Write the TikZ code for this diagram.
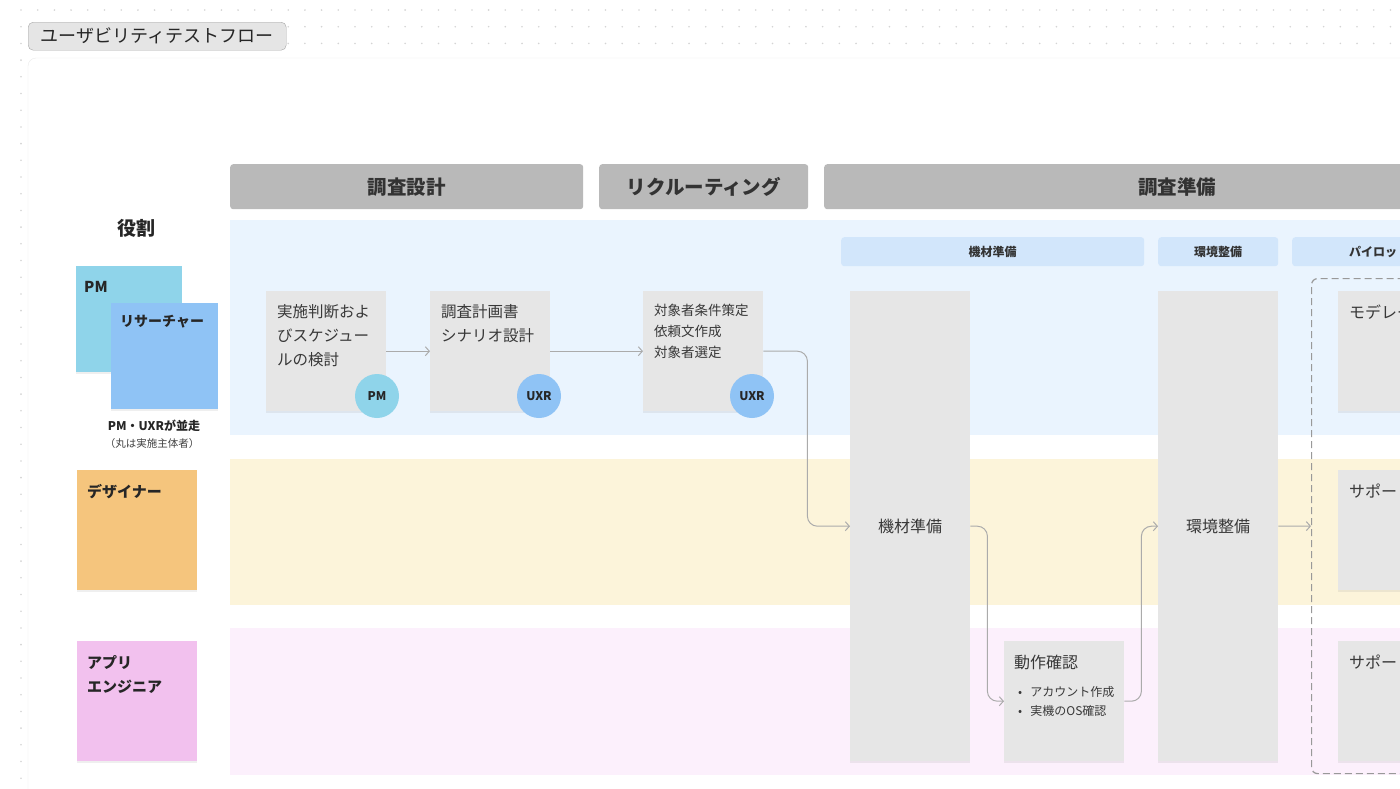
\documentclass[tikz,border=0pt]{standalone}
\usepackage{fontspec}
\setmainfont{Noto Sans CJK JP}
\usetikzlibrary{arrows.meta, positioning, shadows}

\definecolor{dotgray}{HTML}{D4D4D4}
\definecolor{headgray}{HTML}{B9B9B9}
\definecolor{laneblue}{HTML}{EAF4FE}
\definecolor{laneyellow}{HTML}{FCF4DA}
\definecolor{lanepink}{HTML}{FCF0FC}
\definecolor{subblue}{HTML}{D2E6FB}
\definecolor{taskgray}{HTML}{E6E6E6}
\definecolor{pmcol}{HTML}{8FD4EA}
\definecolor{uxrcol}{HTML}{8FC3F5}
\definecolor{descol}{HTML}{F5C57D}
\definecolor{engcol}{HTML}{F2C1EE}
\definecolor{arrowgray}{HTML}{ABABAB}

\tikzset{
  phase/.style={anchor=north west, fill=headgray, rounded corners=3pt, inner sep=0pt,
    minimum height=45pt, text=black!80, font=\fontsize{19.5}{22}\selectfont\bfseries},
  subphase/.style={anchor=north west, fill=subblue, rounded corners=3pt, inner sep=0pt,
    minimum height=29pt, text=black!80, font=\fontsize{12}{14}\selectfont\bfseries},
  task/.style={anchor=north west, fill=taskgray, inner sep=0pt, minimum width=120pt,
    minimum height=120pt, text=black!78,
    drop shadow={shadow xshift=0pt, shadow yshift=-1.5pt, opacity=.12}},
  tasktext/.style={anchor=north west, inner sep=0pt, align=left, text=black!78,
    font=\fontsize{15.5}{24}\selectfont},
  who/.style={circle, fill=#1, minimum size=44pt, inner sep=0pt, text=black!85,
    font=\fontsize{12}{14}\selectfont\bfseries},
  sticky/.style={anchor=north west, fill=#1, inner sep=0pt, minimum width=120pt,
    minimum height=120pt, drop shadow={shadow xshift=0pt, shadow yshift=-1.5pt, opacity=.12}},
  stickytext/.style={anchor=north west, inner sep=0pt, align=left, text=black!85,
    font=\fontsize{15}{24}\selectfont\bfseries},
  flow/.style={draw=arrowgray, line width=1pt, rounded corners=10pt,
    -{Straight Barb[length=4pt, width=9pt]}}
}

\begin{document}
\begin{tikzpicture}[x=1pt, y=-1pt]
\useasboundingbox (0,0) rectangle (1400,788);
\clip (0,0) rectangle (1400,788);
% dotted canvas and board
\foreach \i in {1,...,84}
  \foreach \j in {0,...,47}
    \fill[dotgray] (4.3+16.7*\i, 10+16.7*\j) circle (0.9);
\draw[black!8, fill=white, rounded corners=8] (28,58) rectangle (1440,830);
\node[anchor=north west, draw=black!35, fill=black!10, rounded corners=5pt, inner sep=0pt,
  minimum width=258pt, minimum height=28pt, text=black!85,
  font=\fontsize{18}{20}\selectfont] (title) at (28,22) {ユーザビリティテストフロー};

% phases
\node[phase, minimum width=353pt] (ph-design) at (230,164) {調査設計};
\node[phase, minimum width=209pt] (ph-recruit) at (599,164) {リクルーティング};
\node[phase, minimum width=706pt] (ph-prep) at (824,164) {調査準備};

% lanes
\fill[laneblue] (230,220) rectangle (1440,435);
\fill[laneyellow] (230,459) rectangle (1440,605);
\fill[lanepink] (230,628) rectangle (1440,775);

\node[subphase, minimum width=303pt] (sub-kizai) at (841,237) {機材準備};
\node[subphase, minimum width=120pt] (sub-kankyo) at (1158,237) {環境整備};
\node[subphase, minimum width=210pt] (sub-pilot) at (1292,237) {パイロットテスト};

% roles
\node[text=black!85, font=\fontsize{19}{22}\selectfont\bfseries] (role) at (136,228) {役割};
\node[sticky=pmcol, minimum width=106pt, minimum height=106pt] (pm) at (76,266) {};
\node[stickytext] (pm-t) at ([shift={(8,15)}]pm.north west) {PM};
\node[sticky=uxrcol, minimum width=107pt, minimum height=106pt] (uxr) at (111,303) {};
\node[stickytext, font=\fontsize{14}{20}\selectfont\bfseries] (uxr-t)
  at ([shift={(9,12)}]uxr.north west) {リサーチャー};
\node[text=black!85, font=\fontsize{12}{14}\selectfont\bfseries] (note1) at (154,426) {PM・UXRが並走};
\node[text=black!75, font=\fontsize{10.5}{13}\selectfont] (note2) at (152,444) {（丸は実施主体者）};
\node[sticky=descol] (des) at (77,470) {};
\node[stickytext] (des-t) at ([shift={(10,14)}]des.north west) {デザイナー};
\node[sticky=engcol] (eng) at (77,641) {};
\node[stickytext] (eng-t) at ([shift={(10,14)}]eng.north west) {アプリ\\エンジニア};

% tasks in the research lane
\node[task] (plan) at (266,291) {};
\node[tasktext] (plan-t) at ([shift={(11,13)}]plan.north west) {実施判断およ\\びスケジュー\\ルの検討};
\node[who=pmcol] (plan-who) at (377,396) {PM};
\node[task] (scenario) at (430,291) {};
\node[tasktext] (scenario-t) at ([shift={(11,13)}]scenario.north west) {調査計画書\\シナリオ設計};
\node[who=uxrcol] (scenario-who) at (539,396) {UXR};
\node[task] (target) at (643,291) {};
\node[tasktext, font=\fontsize{13.5}{21}\selectfont] (target-t)
  at ([shift={(11,13)}]target.north west) {対象者条件策定\\依頼文作成\\対象者選定};
\node[who=uxrcol] (target-who) at (752,396) {UXR};

% preparation
\node[task, minimum height=470pt, font=\fontsize{16}{18}\selectfont] (kizai) at (850,291) {機材準備};
\node[task, minimum height=470pt, font=\fontsize{16}{18}\selectfont] (kankyo) at (1158,291) {環境整備};
\node[task] (check) at (1004,641) {};
\node[tasktext, font=\fontsize{16}{18}\selectfont] (check-t)
  at ([shift={(10,14)}]check.north west) {動作確認};
\node[tasktext, font=\fontsize{12}{19}\selectfont] (check-list)
  at ([shift={(14,45)}]check.north west) {•\ \ \ アカウント作成\\•\ \ \ 実機のOS確認};

% pilot
\node[anchor=north west, draw=black!40, line width=1.2pt, dash pattern=on 7pt off 4pt,
  rounded corners=6pt, minimum width=220pt, minimum height=495pt] (pilot) at (1311,278) {};
\node[task] (moderator) at (1338,291) {};
\node[tasktext, font=\fontsize{16}{18}\selectfont] (moderator-t)
  at ([shift={(11,14)}]moderator.north west) {モデレーター};
\node[task] (support1) at (1338,470) {};
\node[tasktext, font=\fontsize{16}{18}\selectfont] (support1-t)
  at ([shift={(11,14)}]support1.north west) {サポート};
\node[task] (support2) at (1338,641) {};
\node[tasktext, font=\fontsize{16}{18}\selectfont] (support2-t)
  at ([shift={(11,14)}]support2.north west) {サポート};

% flow
\draw[flow] (plan.east) -- (scenario.west);
\draw[flow] (scenario.east) -- (target.west);
\draw[flow] (target.east) -- ++(44,0) |- (kizai.west);
\draw[flow] (kizai.east) -- ++(17,0) |- (check.west);
\draw[flow] (check.east) -- ++(17,0) |- (kankyo.west);
\draw[flow] (kankyo.east) -- (pilot.west);
\end{tikzpicture}
\end{document}
